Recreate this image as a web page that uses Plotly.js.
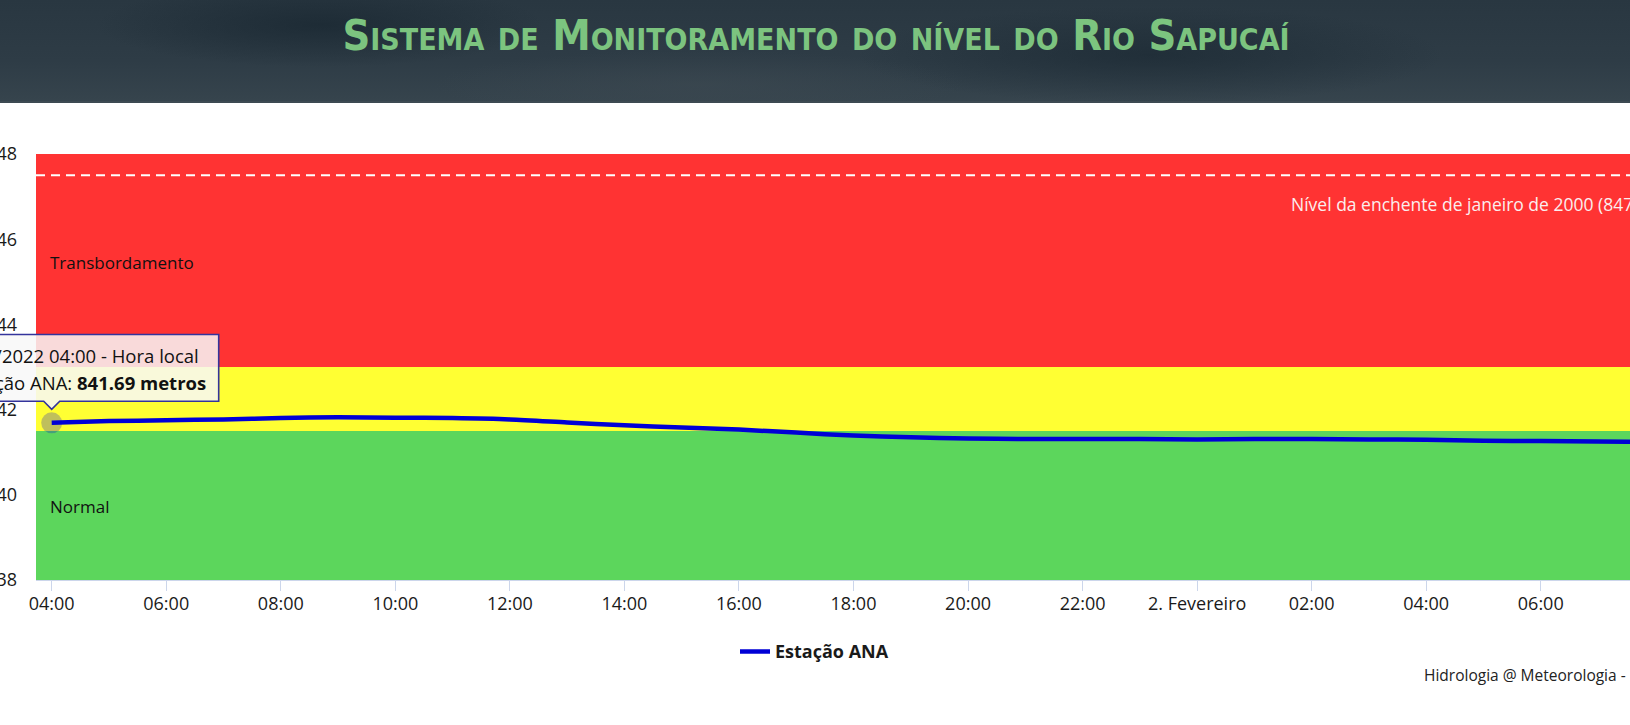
<!DOCTYPE html>
<html>
<head>
<meta charset="utf-8">
<script src="https://cdn.plot.ly/plotly-3.0.1.min.js"></script>
<style>
  html, body { margin:0; padding:0; width:1630px; height:725px; overflow:hidden; background:#ffffff; }
  #hdr { position:absolute; left:0; top:0; width:1630px; height:101px;
    background:
      radial-gradient(ellipse 320px 60px at 320px 25px, rgba(24,38,48,0.7), rgba(24,38,48,0) 70%),
      radial-gradient(ellipse 420px 70px at 1150px 55px, rgba(24,38,48,0.6), rgba(24,38,48,0) 70%),
      radial-gradient(ellipse 380px 50px at 700px 85px, rgba(64,76,84,0.45), rgba(64,76,84,0) 70%),
      linear-gradient(180deg, #293741 0%, #2e3c46 60%, #36444d 100%);
    border-bottom:2px solid #3d4a52; }
  #chart { position:absolute; left:-30px; top:0; width:1760px; height:725px; }
</style>
</head>
<body>
<div id="hdr"></div>
<div id="chart"></div>
<script>
// ---- data ----
const times = [
  '2022-02-01 04:00','2022-02-01 05:00','2022-02-01 06:00','2022-02-01 07:00','2022-02-01 08:00',
  '2022-02-01 09:00','2022-02-01 10:00','2022-02-01 11:00','2022-02-01 12:00','2022-02-01 13:00',
  '2022-02-01 14:00','2022-02-01 15:00','2022-02-01 16:00','2022-02-01 17:00','2022-02-01 18:00',
  '2022-02-01 19:00','2022-02-01 20:00','2022-02-01 21:00','2022-02-01 22:00','2022-02-01 23:00',
  '2022-02-02 00:00','2022-02-02 01:00','2022-02-02 02:00','2022-02-02 03:00','2022-02-02 04:00',
  '2022-02-02 05:00','2022-02-02 06:00','2022-02-02 07:00','2022-02-02 08:00'
];
const nivelANA = [
  841.69, 841.73, 841.75, 841.77, 841.80,
  841.82, 841.81, 841.80, 841.77, 841.70,
  841.63, 841.58, 841.53, 841.46, 841.39,
  841.35, 841.32, 841.31, 841.31, 841.31,
  841.30, 841.31, 841.31, 841.30, 841.29,
  841.27, 841.26, 841.25, 841.24
];
const seriesName = 'Estação ANA';
const bandNames = ['Normal', 'Atenção', 'Transbordamento'];
const bandFrom  = [838, 841.5, 843];
const bandTo    = [841.5, 843, 848];
const bandColors = ['#5cd65c', '#ffff33', '#ff3333'];
const floodLevel = 847.5;
const floodLabel = 'Nível da enchente de janeiro de 2000 (847,50 m)';
const xTickVals = ['2022-02-01 04:00','2022-02-01 06:00','2022-02-01 08:00','2022-02-01 10:00','2022-02-01 12:00',
  '2022-02-01 14:00','2022-02-01 16:00','2022-02-01 18:00','2022-02-01 20:00','2022-02-01 22:00',
  '2022-02-02 00:00','2022-02-02 02:00','2022-02-02 04:00','2022-02-02 06:00','2022-02-02 08:00'];
const xTickText = ['04:00','06:00','08:00','10:00','12:00','14:00','16:00','18:00','20:00','22:00',
  '2. Fevereiro','02:00','04:00','06:00','08:00'];
const yTickVals = [838, 840, 842, 844, 846, 848];
const xRange = ['2022-02-01 03:43:33', '2022-02-02 08:16:27'];
const yRange = [838, 848];
const tipHeader = '01/02/2022 04:00 - Hora local';
const tipUnit = 'metros';
const titleText = 'Sistema de Monitoramento do nível do Rio Sapucaí';
const creditText = 'Hidrologia @ Meteorologia - UNIFEI';

// ---- derived ----
const FONT = 'Open Sans, Noto Sans, sans-serif';
const toMs = s => new Date(s.replace(' ', 'T') + 'Z').getTime();
const x0ms = toMs(xRange[0]), x1ms = toMs(xRange[1]);
const tipIdx = 0;
const tipPX = (toMs(times[tipIdx]) - x0ms) / (x1ms - x0ms);
const tipPY = (nivelANA[tipIdx] - yRange[0]) / (yRange[1] - yRange[0]);

const shapes = bandFrom.map((f, i) => ({
  type: 'rect', xref: 'paper', yref: 'y', x0: 0, x1: 1, y0: f, y1: bandTo[i],
  fillcolor: bandColors[i], line: {width: 0}, layer: 'below'
}));
shapes.push({type: 'line', xref: 'paper', yref: 'y', x0: 0, x1: 1, y0: floodLevel, y1: floodLevel,
  line: {color: '#ffffff', width: 2, dash: '9px,6px'}, layer: 'above'});
// tooltip callout (pixel-sized, anchored on the hovered point)
shapes.push({type: 'path', xref: 'paper', yref: 'paper', xsizemode: 'pixel', ysizemode: 'pixel',
  xanchor: tipPX, yanchor: tipPY,
  path: 'M -260,21.6 L -8,21.6 L 0,13.5 L 8,21.6 L 167,21.6 L 167,88.3 L -260,88.3 Z',
  fillcolor: 'rgba(248,248,248,0.85)', line: {color: '#34349c', width: 1.6}, layer: 'above'});

const annotations = [
  {xref: 'paper', yref: 'y', x: 0, y: bandTo[2], xanchor: 'left', yanchor: 'middle', xshift: 12, yshift: -108,
   text: bandNames[2], showarrow: false, font: {family: FONT, size: 17, color: '#111111'}},
  {xref: 'paper', yref: 'y', x: 0, y: bandTo[0], xanchor: 'left', yanchor: 'middle', xshift: 12, yshift: -76,
   text: bandNames[0], showarrow: false, font: {family: FONT, size: 17, color: '#111111'}},
  {xref: 'paper', yref: 'y', x: 0.7664, y: floodLevel, xanchor: 'left', yanchor: 'middle', yshift: -29,
   text: floodLabel, showarrow: false, font: {family: FONT, size: 17.5, color: '#fbeeee'}},
  {xref: 'paper', yref: 'paper', x: tipPX, y: tipPY, xanchor: 'right', yanchor: 'middle', xshift: 149, yshift: 67,
   text: tipHeader, showarrow: false, font: {family: FONT, size: 18.5, color: '#111111'}},
  {xref: 'paper', yref: 'paper', x: tipPX, y: tipPY, xanchor: 'right', yanchor: 'middle', xshift: 156, yshift: 40.5,
   text: seriesName + ': <b>' + nivelANA[tipIdx].toFixed(2) + ' ' + tipUnit + '</b>', showarrow: false,
   font: {family: FONT, size: 18.5, color: '#111111'}},
  {xref: 'paper', yref: 'paper', x: (1421.7 - 36) / 1635, y: -(674.5 - 580) / 426, xanchor: 'left', yanchor: 'middle',
   text: creditText, showarrow: false, font: {family: FONT, size: 15.5, color: '#222222'}}
];

const traces = [
  {x: times, y: nivelANA, type: 'scatter', mode: 'lines', name: seriesName,
   line: {color: '#0000d6', width: 4.5, shape: 'spline', smoothing: 0.8}, hoverinfo: 'skip'},
  {x: [times[tipIdx]], y: [nivelANA[tipIdx]], type: 'scatter', mode: 'markers', showlegend: false,
   marker: {size: 21, color: 'rgba(0,0,214,0.25)'}, hoverinfo: 'skip'}
];

const layout = {
  width: 1760, height: 725,
  margin: {l: 66, r: 59, t: 154, b: 145, pad: 0},
  paper_bgcolor: 'rgba(0,0,0,0)', plot_bgcolor: 'rgba(0,0,0,0)',
  title: {text: titleText, xref: 'container', yref: 'container', x: 846 / 1760, y: 1 - 35 / 725,
    xanchor: 'center', yanchor: 'middle',
    font: {family: 'Liberation Sans Narrow, DejaVu Sans Condensed, Roboto Condensed, sans-serif', size: 43,
      color: '#7cc47f', variant: 'small-caps', weight: 600}},
  xaxis: {type: 'date', range: xRange, tickvals: xTickVals, ticktext: xTickText,
    ticks: 'outside', ticklen: 10, tickcolor: '#ccd6eb', tickwidth: 1, ticklabelstandoff: -3,
    showgrid: false, zeroline: false, showline: true, linecolor: '#ccd6eb', linewidth: 1,
    tickfont: {family: FONT, size: 18, color: '#1a1a1a'}},
  yaxis: {range: yRange, tickvals: yTickVals, showgrid: false, zeroline: false, ticks: '',
    ticklabelstandoff: 18, tickfont: {family: FONT, size: 18, color: '#1a1a1a'}},
  shapes: shapes, annotations: annotations,
  showlegend: true,
  legend: {orientation: 'h', xref: 'container', yref: 'container', x: 844.5 / 1760, y: 1 - 651.7 / 725,
    xanchor: 'center', yanchor: 'middle', font: {family: FONT, size: 18, color: '#1a1a1a', weight: 'bold'},
    bgcolor: 'rgba(0,0,0,0)'},
  hovermode: false
};

Plotly.newPlot('chart', traces, layout, {displayModeBar: false, staticPlot: true});
</script>
</body>
</html>
